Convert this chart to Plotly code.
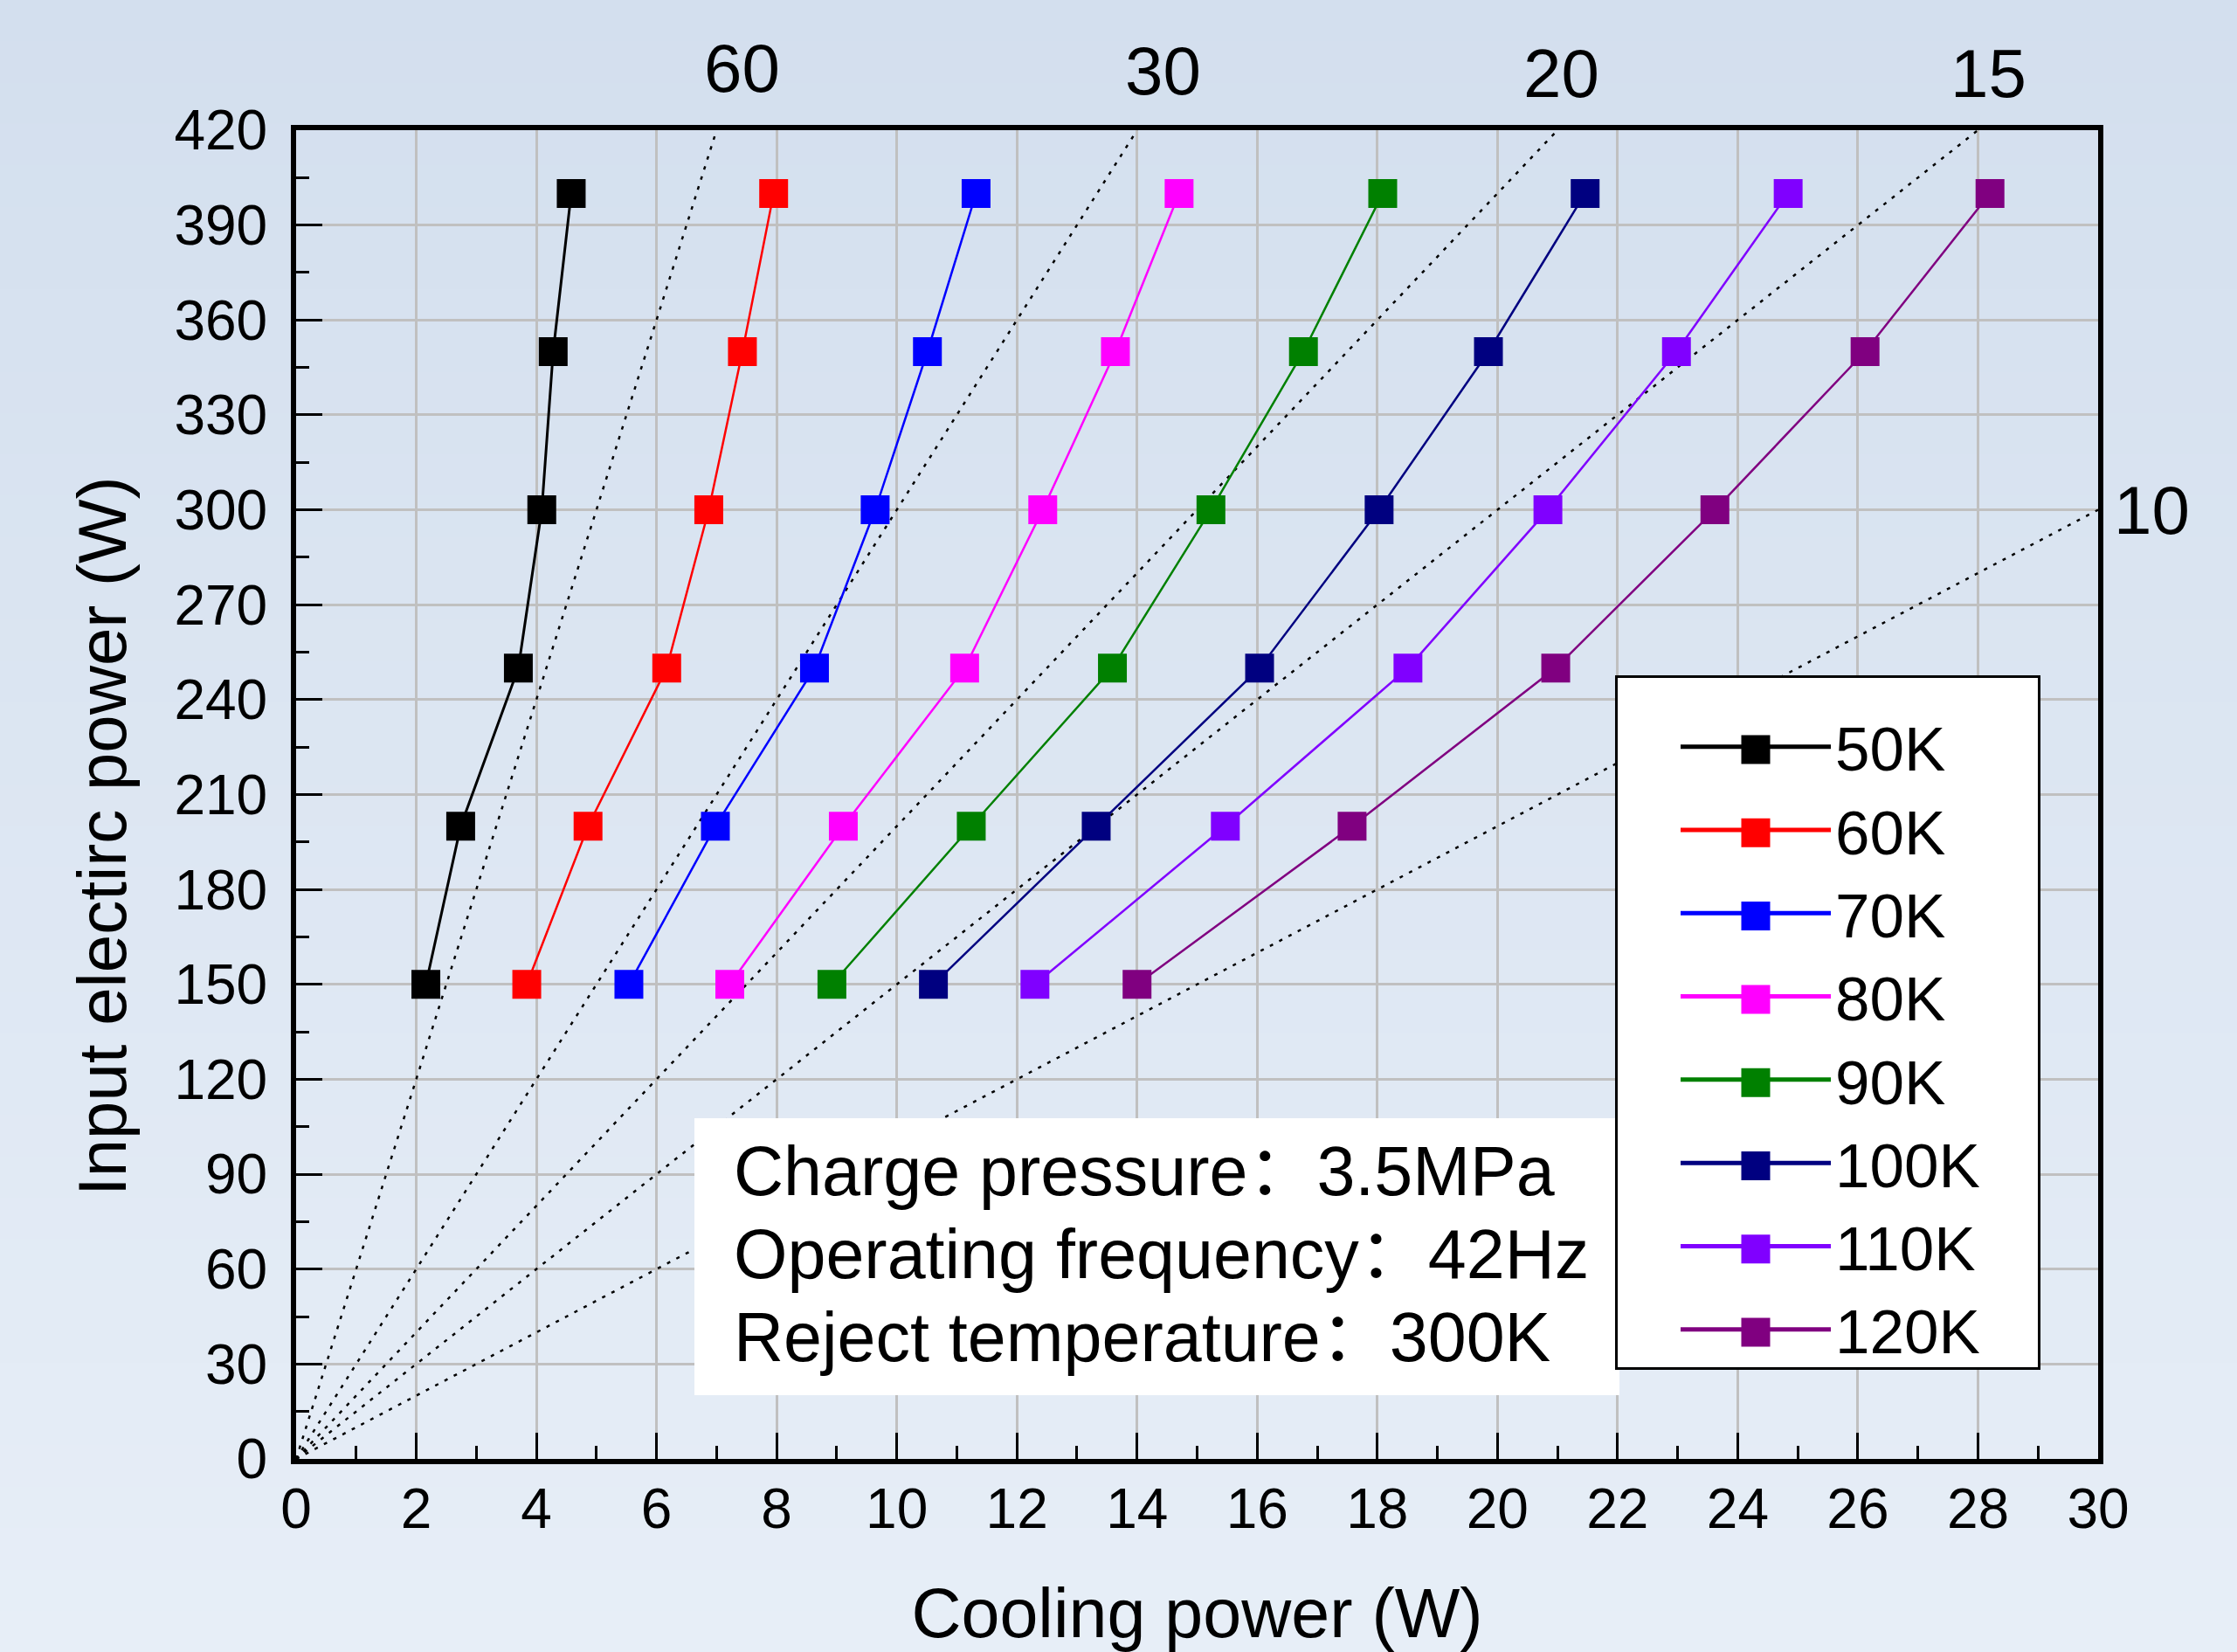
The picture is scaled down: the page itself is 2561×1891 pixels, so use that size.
import plotly.graph_objects as go

# ---------------- data ----------------
input_power = [150, 200, 250, 300, 350, 400]          # W (y)
temperatures = ["50K", "60K", "70K", "80K", "90K", "100K", "110K", "120K"]
cooling_50K = [2.16, 2.74, 3.70, 4.09, 4.28, 4.58]
cooling_60K = [3.84, 4.86, 6.17, 6.87, 7.43, 7.95]
cooling_70K = [5.54, 6.98, 8.63, 9.64, 10.51, 11.32]
cooling_80K = [7.22, 9.11, 11.13, 12.43, 13.64, 14.70]
cooling_90K = [8.92, 11.24, 13.59, 15.23, 16.77, 18.09]
cooling_100K = [10.61, 13.32, 16.04, 18.03, 19.85, 21.46]
cooling_110K = [12.30, 15.47, 18.51, 20.84, 22.98, 24.84]
cooling_120K = [14.00, 17.58, 20.97, 23.62, 26.12, 28.20]
cooling_series = [cooling_50K, cooling_60K, cooling_70K, cooling_80K,
                  cooling_90K, cooling_100K, cooling_110K, cooling_120K]
colors = ["#000000", "#ff0000", "#0000ff", "#ff00ff",
          "#008000", "#000080", "#8000ff", "#800080"]

# specific power reference lines (W input per W cooling)
ratio_lines = [60, 30, 20, 15, 10]
ratio_labels = ["60", "30", "20", "15", "10"]

x_max, y_max = 30, 420
x_ticks = list(range(0, 31, 2))
y_ticks = list(range(0, 421, 30))

info_lines = ["Charge pressure：3.5MPa",
              "Operating frequency：42Hz",
              "Reject temperature：300K"]

FONT = "Liberation Sans, Arial, Noto Sans CJK SC, sans-serif"

fig = go.Figure()

# dotted reference lines y = r * x, clipped at plot border
for r in ratio_lines:
    xe = min(x_max, y_max / r)
    fig.add_trace(go.Scatter(
        x=[0, xe], y=[0, r * xe], mode="lines",
        line=dict(color="black", width=2.5, dash="4px,8px"),
        showlegend=False, hoverinfo="skip"))

for name, xs, c in zip(temperatures, cooling_series, colors):
    fig.add_trace(go.Scatter(
        x=xs, y=input_power, mode="lines+markers", name=name,
        line=dict(color=c, width=3 if name == "50K" else 2.5),
        marker=dict(symbol="square", size=33, color=c, line=dict(width=0))))

# ---------- geometry helpers ----------
W, H = 2561, 1891
L, R, T, B = 339, 159, 149, 221
pw, ph = W - L - R, H - T - B


def px_x(p):
    return (p - L) / pw


def px_y(p):
    return (H - B - p) / ph


# ---------- background gradient ----------
top_c = (211, 223, 238)
bot_c = (231, 238, 247)
nb = 40
shapes = []
for i in range(nb):
    f = i / (nb - 1)
    col = tuple(round(top_c[k] + (bot_c[k] - top_c[k]) * f) for k in range(3))
    py0 = i * H / nb
    py1 = (i + 1) * H / nb + 1
    shapes.append(dict(
        type="rect", xref="paper", yref="paper", layer="below",
        x0=-L / pw, x1=(W - L) / pw,
        y0=(H - B - py1) / ph, y1=(H - B - py0) / ph,
        fillcolor="rgb(%d,%d,%d)" % col, line=dict(width=0)))

# white info box
shapes.append(dict(type="rect", xref="paper", yref="paper", layer="above",
                   x0=px_x(795), x1=px_x(1854), y0=px_y(1597), y1=px_y(1280),
                   fillcolor="white", line=dict(width=0)))

# legend frame + enlarged legend symbols (legend itself is transparent)
LEG_L, LEG_T, LEG_R, LEG_B = 1849, 773, 2336, 1568
shapes.append(dict(type="rect", xref="paper", yref="paper", layer="above",
                   x0=px_x(LEG_L + 1.5), x1=px_x(LEG_R - 1.5),
                   y0=px_y(LEG_B - 1.5), y1=px_y(LEG_T + 1.5),
                   fillcolor="white", line=dict(color="black", width=3)))
sym_cx = 2010
sym_y0 = 858
sym_dy = 95.3
for i, c in enumerate(colors):
    cy = sym_y0 + i * sym_dy
    shapes.append(dict(type="rect", xref="paper", yref="paper", layer="above",
                       x0=px_x(sym_cx - 16.5), x1=px_x(sym_cx + 16.5),
                       y0=px_y(cy + 16.5), y1=px_y(cy - 16.5),
                       fillcolor=c, line=dict(width=0)))

annotations = []
for i, t in enumerate(info_lines):
    annotations.append(dict(
        text=t, xref="paper", yref="paper", x=px_x(838), y=px_y(1340 + i * 95),
        xanchor="left", yanchor="middle", showarrow=False,
        font=dict(family=FONT, size=79, color="black")))

# line labels
label_x = [7.42, 14.43, 21.07, 28.17]
label_y = [78, 81, 84, 84]
for lab, lx, ly in zip(ratio_labels[:4], label_x, label_y):
    annotations.append(dict(
        text=lab, x=lx, xref="x", y=px_y(ly), yref="paper",
        xanchor="center", yanchor="middle", showarrow=False,
        font=dict(family=FONT, size=78, color="black")))
annotations.append(dict(
    text=ratio_labels[4], x=x_max, xref="x", y=ratio_lines[4] * x_max, yref="y",
    xanchor="left", yanchor="middle", xshift=16, showarrow=False,
    font=dict(family=FONT, size=78, color="black")))

# y axis title (placed to match the reference)
annotations.append(dict(
    text="Input electirc power (W)", xref="paper", yref="paper",
    x=px_x(117), y=px_y(957), xanchor="center", yanchor="middle",
    textangle=-90, showarrow=False,
    font=dict(family=FONT, size=78, color="black")))

fig.update_layout(
    width=W, height=H,
    margin=dict(l=L, r=R, t=T, b=B, pad=0),
    paper_bgcolor="rgb(221,230,242)",
    plot_bgcolor="rgba(0,0,0,0)",
    font=dict(family=FONT, color="black"),
    shapes=shapes,
    annotations=annotations,
    showlegend=True,
    legend=dict(
        x=px_x(LEG_L), y=px_y(LEG_T + 3), xanchor="left", yanchor="top",
        bgcolor="rgba(0,0,0,0)", borderwidth=0,
        font=dict(family=FONT, size=71, color="black"),
        itemwidth=172, indentation=70, itemsizing="constant",
        title=dict(text=" ", font=dict(size=20)),
    ),
)

fig.update_xaxes(
    range=[0, x_max], tickvals=x_ticks, ticktext=[str(v) for v in x_ticks],
    showline=True, linecolor="black", linewidth=6, mirror=True,
    ticks="inside", ticklen=30, tickwidth=3, tickcolor="black",
    minor=dict(ticks="inside", ticklen=15, tickwidth=3, tickcolor="black",
               dtick=1, showgrid=False),
    showgrid=True, gridcolor="#c0c0c0", gridwidth=2.5,
    zeroline=False, automargin=False,
    tickfont=dict(family=FONT, size=64, color="black"),
    ticklabelstandoff=-4,
    title=dict(text="Cooling power (W)", standoff=68,
               font=dict(family=FONT, size=79, color="black")),
)
fig.update_yaxes(
    range=[0, y_max], tickvals=y_ticks, ticktext=[str(v) for v in y_ticks],
    showline=True, linecolor="black", linewidth=6, mirror=True,
    ticks="inside", ticklen=30, tickwidth=3, tickcolor="black",
    minor=dict(ticks="inside", ticklen=15, tickwidth=3, tickcolor="black",
               dtick=15, showgrid=False),
    showgrid=True, gridcolor="#c0c0c0", gridwidth=2.5,
    zeroline=False, automargin=False,
    tickfont=dict(family=FONT, size=64, color="black"),
    ticklabelstandoff=14,
)

fig.write_html("out.html")
